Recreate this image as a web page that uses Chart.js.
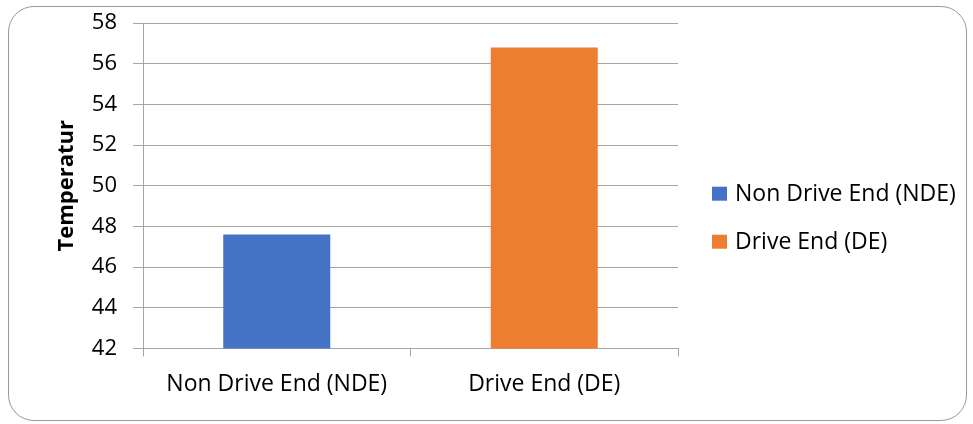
<!DOCTYPE html>
<html>
<head>
<meta charset="utf-8">
<script src="https://cdn.jsdelivr.net/npm/chart.js@4/dist/chart.umd.min.js"></script>
<style>
  html, body { margin: 0; padding: 0; background: #fff; }
  #wrap { position: relative; width: 973px; height: 424px; }
  #frame {
    position: absolute; left: 8px; top: 6px; width: 959px; height: 415px;
    border: 1px solid #9a9a9a; border-radius: 26px; box-sizing: border-box;
  }
  canvas { position: absolute; left: 0; top: 0; }
</style>
</head>
<body>
<div id="wrap">
  <div id="frame"></div>
  <canvas id="c" width="973" height="424"></canvas>
</div>
<script>
// Bearing temperature by measurement point
const categories = ['Non Drive End (NDE)', 'Drive End (DE)'];
const temperatures = [47.6, 56.8];
const barColors = ['#4472c4', '#ed7d31'];
const yTicks = [42, 44, 46, 48, 50, 52, 54, 56, 58];

const FONT = "'Open Sans', sans-serif";
const GRID = '#a6a6a6';

// Legend listing one entry per category, placed to the right of the plot
const sideLegend = {
  id: 'sideLegend',
  afterDraw(chart) {
    const ctx = chart.ctx;
    const ds = chart.data.datasets[0];
    const x0 = chart.chartArea.right + 34;
    const midY = (chart.chartArea.top + chart.chartArea.bottom) / 2;
    const rowGap = 48;
    ctx.save();
    ctx.font = `23px ${FONT}`;
    ctx.textBaseline = 'middle';
    ctx.textAlign = 'left';
    chart.data.labels.forEach((label, i) => {
      const cy = midY + 8 + i * rowGap;
      ctx.fillStyle = ds.backgroundColor[i];
      ctx.fillRect(x0, cy - 7, 15, 14);
      ctx.fillStyle = '#000';
      ctx.fillText(label, x0 + 23, cy + 1);
    });
    ctx.restore();
  }
};

new Chart(document.getElementById('c'), {
  type: 'bar',
  data: {
    labels: categories,
    datasets: [{
      label: 'Temperatur',
      data: temperatures,
      backgroundColor: barColors,
      borderWidth: 0,
      barPercentage: 0.4,
      categoryPercentage: 1.0
    }]
  },
  options: {
    responsive: false,
    animation: false,
    devicePixelRatio: 1,
    layout: { autoPadding: false, padding: { left: 54, top: 23, right: 295, bottom: 12 } },
    plugins: {
      tooltip: { enabled: false },
      legend: { display: false }
    },
    scales: {
      x: {
        grid: {
          offset: true,
          drawOnChartArea: false,
          color: GRID,
          tickLength: 8
        },
        border: { color: GRID },
        ticks: {
          font: { family: FONT, size: 23 },
          color: '#000',
          padding: 14
        }
      },
      y: {
        min: 42,
        max: 58,
        afterBuildTicks: (axis) => { axis.ticks = yTicks.map(v => ({ value: v })); },
        afterFit: (axis) => {
          axis.width = 89;
          axis.paddingTop = 0;
          axis.paddingBottom = 0;
        },
        grid: { color: GRID, tickLength: 10 },
        border: { color: GRID },
        ticks: {
          font: { family: FONT, size: 22 },
          color: '#000',
          padding: 16
        },
        title: {
          display: true,
          text: 'Temperatur',
          font: { family: FONT, size: 22, weight: 'bold' },
          color: '#000',
          padding: { top: 0, bottom: 11 }
        }
      }
    }
  },
  plugins: [sideLegend]
});
</script>
</body>
</html>
